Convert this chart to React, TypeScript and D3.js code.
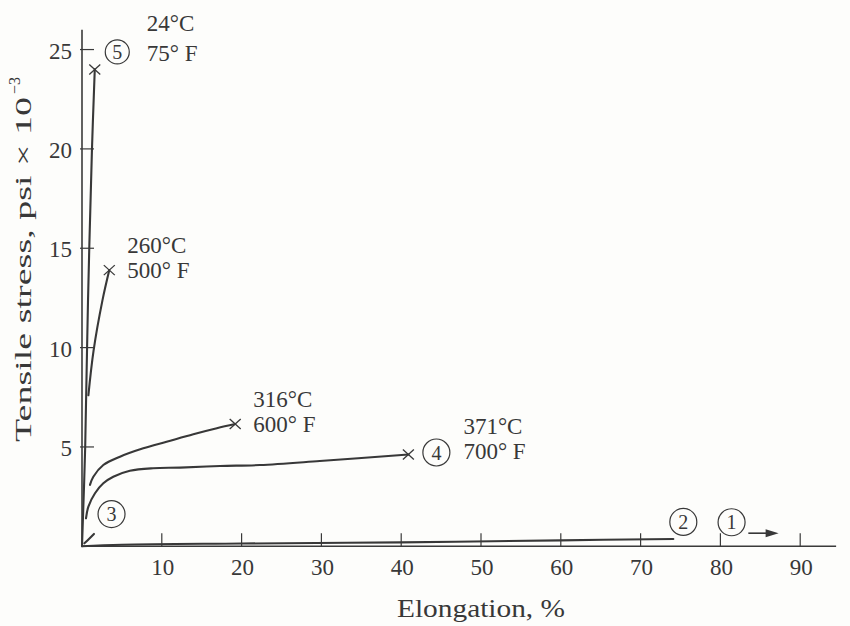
import React from 'react';
import * as d3 from 'd3';

const W = 850;
const H = 626;

// Tensile stress (psi × 10^-3) against elongation (%) at each test temperature
const elong24C = [0, 0.4, 0.75, 1.25, 1.6];
const stress24C = [0, 5, 12.3, 20, 24.0];
const elong260C = [0.8, 1.45, 2.55, 3.42];
const stress260C = [7.6, 9.85, 12.35, 13.9];
const elong316C = [1.0, 1.42, 2.67, 4.76, 7.68, 10.6, 13.95, 16.9, 19.2];
const stress316C = [3.09, 3.5, 4.09, 4.51, 4.93, 5.26, 5.64, 5.94, 6.15];
const elong371C = [0.5, 0.8, 1.63, 2.67, 3.92, 6.0, 8.9, 12.3, 17.3, 22.3, 29.8, 40.9];
const stress371C = [1.41, 2.0, 2.67, 3.17, 3.5, 3.8, 3.93, 3.96, 4.04, 4.09, 4.29, 4.62];
const elongCurve3 = [0.3, 0.9, 1.5];
const stressCurve3 = [0.15, 0.38, 0.62];
const elongCurve2 = [0, 5, 20, 40, 60, 74.1];
const stressCurve2 = [0, 0.08, 0.14, 0.2, 0.3, 0.37];

const xTicks = [10, 20, 30, 40, 50, 60, 70, 80, 90];
const yTicks = [5, 10, 15, 20, 25];

// Curves that end in a fracture (×) with their temperature labels
const brokenCurves = [
  { id: '5', celsius: '24°C', fahrenheit: '75° F', xs: elong24C, ys: stress24C },
  { id: '', celsius: '260°C', fahrenheit: '500° F', xs: elong260C, ys: stress260C },
  { id: '', celsius: '316°C', fahrenheit: '600° F', xs: elong316C, ys: stress316C },
  { id: '4', celsius: '371°C', fahrenheit: '700° F', xs: elong371C, ys: stress371C },
];

// label placement relative to each fracture mark (px)
const labelOffsets = [
  { tx: 52, tyC: -38, tyF: -8, cx: 22.5, cy: -17.5, r: 12 },
  { tx: 18, tyC: -17, tyF: 8, cx: 0, cy: 0, r: 0 },
  { tx: 18, tyC: -17, tyF: 8, cx: 0, cy: 0, r: 0 },
  { tx: 55, tyC: -21, tyF: 4, cx: 28, cy: -2, r: 13.5 },
];

const font = "'Liberation Serif', 'Times New Roman', serif";
const ink = '#383838';

export default function App() {
  const x0 = 82;
  const y0 = 546.3;
  const x = d3.scaleLinear().domain([0, 94.5]).range([x0, x0 + 94.5 * 7.98]);
  const y = d3.scaleLinear().domain([0, 26]).range([y0, y0 - 26 * 19.87]);

  const line = d3
    .line<[number, number]>()
    .x((d) => x(d[0]))
    .y((d) => y(d[1]))
    .curve(d3.curveCatmullRom.alpha(0.5));

  const pts = (xs: number[], ys: number[]) => xs.map((v, i) => [v, ys[i]] as [number, number]);

  const circled = (cx: number, cy: number, r: number, label: string, key: string) => (
    <g key={key}>
      <circle cx={cx} cy={cy} r={r} fill="none" stroke={ink} strokeWidth={1.2} />
      <text x={cx} y={cy + 7} textAnchor="middle" fontSize={20} fontFamily={font} fill={ink}>
        {label}
      </text>
    </g>
  );

  const cross = (cx: number, cy: number, key: string) => (
    <g key={key} stroke={ink} strokeWidth={1.3}>
      <line x1={cx - 5.5} y1={cy - 5} x2={cx + 5.5} y2={cy + 5} />
      <line x1={cx - 5.5} y1={cy + 5} x2={cx + 5.5} y2={cy - 5} />
    </g>
  );

  // curve 1 runs off the chart: an arrow beside its marker
  const arrowY = y(0.66);
  const arrowX1 = x(83.5);
  const arrowX2 = x(87.3);

  return (
    <svg
      width={W}
      height={H}
      viewBox={`0 0 ${W} ${H}`}
      style={{ position: 'absolute', left: 0, top: 0, background: '#fdfdfb' }}
    >
      <rect width={W} height={H} fill="#fdfdfb" />

      {/* axes */}
      <line x1={x(0)} y1={y(0)} x2={x(94.5)} y2={y(0)} stroke="#3a3a3a" strokeWidth={1.6} />
      <line x1={x(0)} y1={y(0)} x2={x(0)} y2={y(26)} stroke="#3a3a3a" strokeWidth={1.6} />

      {xTicks.map((t) => (
        <g key={`xt${t}`}>
          <line x1={x(t)} y1={y(0)} x2={x(t)} y2={y(0) - 13} stroke="#3a3a3a" strokeWidth={1.2} />
          <text x={x(t) + 1} y={575} textAnchor="middle" fontSize={23} fontFamily={font} fill={ink}>
            {t}
          </text>
        </g>
      ))}
      {yTicks.map((t) => (
        <g key={`yt${t}`}>
          <line x1={x(0) - 2} y1={y(t)} x2={x(0) + 12} y2={y(t)} stroke="#3a3a3a" strokeWidth={1.2} />
          <text x={72} y={y(t) + 9} textAnchor="end" fontSize={23} fontFamily={font} fill={ink}>
            {t}
          </text>
        </g>
      ))}

      {/* axis titles */}
      <text x={397} y={617} fontSize={25} fontFamily={font} fill={ink} textLength={168} lengthAdjust="spacingAndGlyphs">
        Elongation, %
      </text>
      <g transform="translate(31, 442) rotate(-90)">
        <text x={0} y={0} fontSize={23} fontFamily={font} fill={ink} textLength={345} lengthAdjust="spacingAndGlyphs">
          Tensile stress, psi × 10
        </text>
        <text x={348} y={-11} fontSize={16} fontFamily={font} fill={ink}>
          −3
        </text>
      </g>

      {/* curves */}
      <g fill="none" stroke={ink} strokeWidth={2.1} strokeLinecap="round">
        {brokenCurves.map((c) => (
          <path key={c.celsius} d={line(pts(c.xs, c.ys)) || ''} />
        ))}
        <path d={line(pts(elongCurve3, stressCurve3)) || ''} />
        <path d={line(pts(elongCurve2, stressCurve2)) || ''} />
      </g>

      {/* fracture marks and temperature labels */}
      {brokenCurves.map((c, i) => {
        const ex = x(c.xs[c.xs.length - 1]);
        const ey = y(c.ys[c.ys.length - 1]);
        const o = labelOffsets[i];
        return (
          <g key={`lab${i}`}>
            {cross(ex, ey, `x${i}`)}
            <text x={ex + o.tx} y={ey + o.tyC} fontSize={23} fontFamily={font} fill={ink}>
              {c.celsius}
            </text>
            <text x={ex + o.tx} y={ey + o.tyF} fontSize={23} fontFamily={font} fill={ink}>
              {c.fahrenheit}
            </text>
            {c.id && circled(ex + o.cx, ey + o.cy, o.r, c.id, `c${i}`)}
          </g>
        );
      })}

      {circled(x(3.7), y(1.62), 13.5, '3', 'c3')}
      {circled(
        x(elongCurve2[elongCurve2.length - 1]) + 10,
        y(stressCurve2[stressCurve2.length - 1]) - 17,
        13.5,
        '2',
        'c2'
      )}
      {circled(x(81.4), y(1.21), 13.5, '1', 'c1')}

      <line x1={arrowX1} y1={arrowY} x2={arrowX2 - 10} y2={arrowY} stroke={ink} strokeWidth={1.6} />
      <path
        d={`M${arrowX2},${arrowY} L${arrowX2 - 13},${arrowY - 4} L${arrowX2 - 13},${arrowY + 4} Z`}
        fill={ink}
      />
    </svg>
  );
}
